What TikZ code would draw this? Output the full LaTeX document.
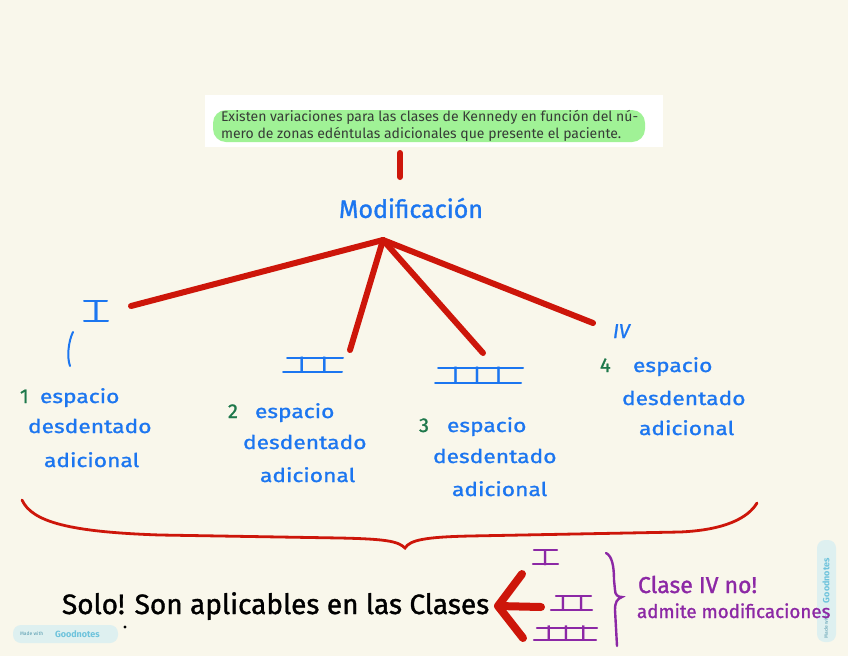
\documentclass[tikz,border=0pt]{standalone}
\usepackage{fontspec}
\setmainfont{Fira Sans}
\newfontfamily\handw[FakeStretch=1.2,FakeBold=1.2]{Fira Sans}
\newfontfamily\handn[FakeBold=1.2]{Fira Sans}
\definecolor{bg}{RGB}{249,247,235}
\definecolor{hblue}{RGB}{28,118,240}
\definecolor{hgreen}{RGB}{30,120,75}
\definecolor{hred}{RGB}{205,22,10}
\definecolor{hpurple}{RGB}{140,40,165}
\definecolor{hl}{RGB}{160,242,150}
\definecolor{boxtext}{RGB}{55,60,55}
\definecolor{gnfill}{RGB}{222,240,240}
\definecolor{gntext}{RGB}{110,195,220}
\begin{document}
\begin{tikzpicture}[x=1pt,y=-1pt,
  every node/.style={inner sep=0pt,outer sep=0pt},
  word/.style={anchor=base west,text=hblue,font=\handw\fontsize{19}{19}\selectfont},
  numg/.style={anchor=base west,text=hgreen,font=\handn\fontsize{20}{20}\selectfont},
  roman/.style={anchor=base,text=hblue,font=\handn\fontsize{22}{22}\selectfont},
  proman/.style={anchor=base,text=hpurple,font=\handn\fontsize{21}{21}\selectfont},
  bluebar/.style={draw=hblue,line width=2pt,line cap=round},
  purplebar/.style={draw=hpurple,line width=2.4pt,line cap=round},
  redline/.style={draw=hred,line width=6pt,line cap=round},
  purpletext/.style={anchor=base west,text=hpurple,font=\handn\fontsize{18.8}{18.8}\selectfont},
  badge/.style={fill=gnfill,rounded corners=8pt}]
\fill[bg] (0,0) rectangle (848,656);
\useasboundingbox (0,0) rectangle (848,656);

% Goodnotes badges (drawn first, handwriting lies over them)
\fill[badge] (13,625) rectangle (118,643);
\node[anchor=west,text=gntext!80!black,font=\fontsize{5}{5}\selectfont] (mw1) at (20,634) {Made with};
\node[anchor=west,text=gntext,font=\bfseries\fontsize{9}{9}\selectfont] (gn1) at (55,634) {Goodnotes};
\fill[badge] (817,540) rectangle (836,642);
\node[rotate=90,anchor=west,text=gntext!80!black,font=\fontsize{5}{5}\selectfont] (mw2) at (826,638) {Made with};
\node[rotate=90,anchor=west,text=gntext,font=\bfseries\fontsize{9}{9}\selectfont] (gn2) at (826,603) {Goodnotes};

% intro box
\node[fill=white,minimum width=458pt,minimum height=52pt,anchor=north west] (box) at (205,95) {};
\fill[hl,rounded corners=13pt] (213,110) rectangle (645,142);
\node[anchor=base west,align=left,text=boxtext,font=\fontsize{14}{16.5}\selectfont] (intro1) at (221,121.5)
  {Existen variaciones para las clases de Kennedy en función del nú-};
\node[anchor=base west,align=left,text=boxtext,font=\fontsize{14}{16.5}\selectfont] (intro2) at (221,138)
  {mero de zonas edéntulas adicionales que presente el paciente.};

% title
\node[text=hblue,font=\handn\fontsize{25}{25}\selectfont] (mod) at (411,208) {Modificación};
\coordinate (t1) at (400,153);
\coordinate (t2) at (400,177);
\draw[redline] (t1) -- (t2);

% hub and branches
\coordinate (hub) at (383,240);
\coordinate (e1) at (131,306);
\coordinate (e2) at (350,350);
\coordinate (e3) at (483,353);
\coordinate (e4) at (593,323);
\draw[redline] (hub) -- (e1);
\draw[redline] (hub) -- (e2);
\draw[redline] (hub) -- (e3);
\draw[redline] (hub) -- (e4);

% roman numerals
\node[roman,font=\handn\fontsize{27}{27}\selectfont] (r1) at (96,320) {I};
\draw[bluebar] (84,301) -- (107,301);
\draw[bluebar] (84,321) -- (108,321);
\draw[draw=hblue,line width=2pt,line cap=round] (73,332) .. controls (68,342) and (67,358) .. (70,366);

\node[roman] (r2) at (313,372) {I\hspace{16pt}I};
\draw[bluebar] (287,358) -- (343,358);
\draw[bluebar] (283,372) -- (342,372);

\node[roman] (r3) at (477,382) {I\hspace{15pt}I\hspace{15pt}I};
\draw[bluebar] (438,368) -- (523,368);
\draw[bluebar] (435,383) -- (521,383);

\node[roman,anchor=base west,font=\handn\itshape\fontsize{20}{20}\selectfont] (r4) at (613,338) {IV};

% group 1
\node[numg] (g1n) at (20,403) {1};
\node[word] (g1a) at (40,403) {espacio};
\node[word] (g1b) at (28,433) {desdentado};
\node[word] (g1c) at (44,467) {adicional};
% group 2
\node[numg] (g2n) at (228,418) {2};
\node[word] (g2a) at (255,418) {espacio};
\node[word] (g2b) at (243,449) {desdentado};
\node[word] (g2c) at (260,482) {adicional};
% group 3
\node[numg] (g3n) at (419,432) {3};
\node[word] (g3a) at (447,432) {espacio};
\node[word] (g3b) at (433,463) {desdentado};
\node[word] (g3c) at (452,496) {adicional};
% group 4
\node[numg] (g4n) at (600,372) {4};
\node[word] (g4a) at (633,372) {espacio};
\node[word] (g4b) at (622,405) {desdentado};
\node[word] (g4c) at (639,435) {adicional};

% red brace
\coordinate (bl) at (22,500);
\coordinate (bt) at (405,548);
\coordinate (br) at (757,503);
\draw[hred,line width=2.8pt,line cap=round]
  (bl) .. controls (32,522) and (70,532) .. (160,535)
  -- (340,538) .. controls (385,539) and (398,541) .. (bt)
  .. controls (410,540) and (425,537) .. (470,536)
  -- (680,532) .. controls (725,530) and (748,518) .. (br);

% bottom sentence
\node[anchor=base west,text=black,font=\handn\fontsize{28}{28}\selectfont] (solo) at (62,614) {Solo! Son aplicables en las Clases};
\fill (125,627) circle (1.6);

% red arrow
\coordinate (atip) at (498,606);
\coordinate (aend) at (541,607);
\coordinate (aup) at (522,574);
\coordinate (adn) at (523,638);
\draw[redline,line width=8pt] (aend) -- (atip);
\draw[redline,line width=8pt,line join=round] (aup) -- (atip) -- (adn);

% purple numerals
\node[proman] (p1) at (545,565) {I};
\draw[purplebar] (534,550) -- (557,550);
\draw[purplebar] (533,564) -- (558,564);
\node[proman] (p2) at (572,610) {I\hspace{12pt}I};
\draw[purplebar] (556,596) -- (591,596);
\draw[purplebar] (551,610) -- (592,610);
\node[proman] (p3) at (566,640) {I\hspace{11pt}I\hspace{11pt}I};
\draw[purplebar] (537,628) -- (597,628);
\draw[purplebar] (534,640) -- (596,640);

% purple brace
\coordinate (pbt) at (606,553);
\coordinate (pbm) at (622,597);
\coordinate (pbb) at (617,646);
\draw[hpurple,line width=2.4pt,line cap=round]
  (pbt) .. controls (612,556) and (614,566) .. (614,580)
  -- (615,590) .. controls (615,595) and (618,597) .. (pbm)
  .. controls (617,599) and (615,602) .. (615,610)
  -- (pbb);

\node[purpletext,font=\handn\fontsize{23}{23}\selectfont] (c1) at (638,593) {Clase IV no!};
\node[purpletext] (c2) at (637,618) {admite modificaciones};
\end{tikzpicture}
\end{document}
